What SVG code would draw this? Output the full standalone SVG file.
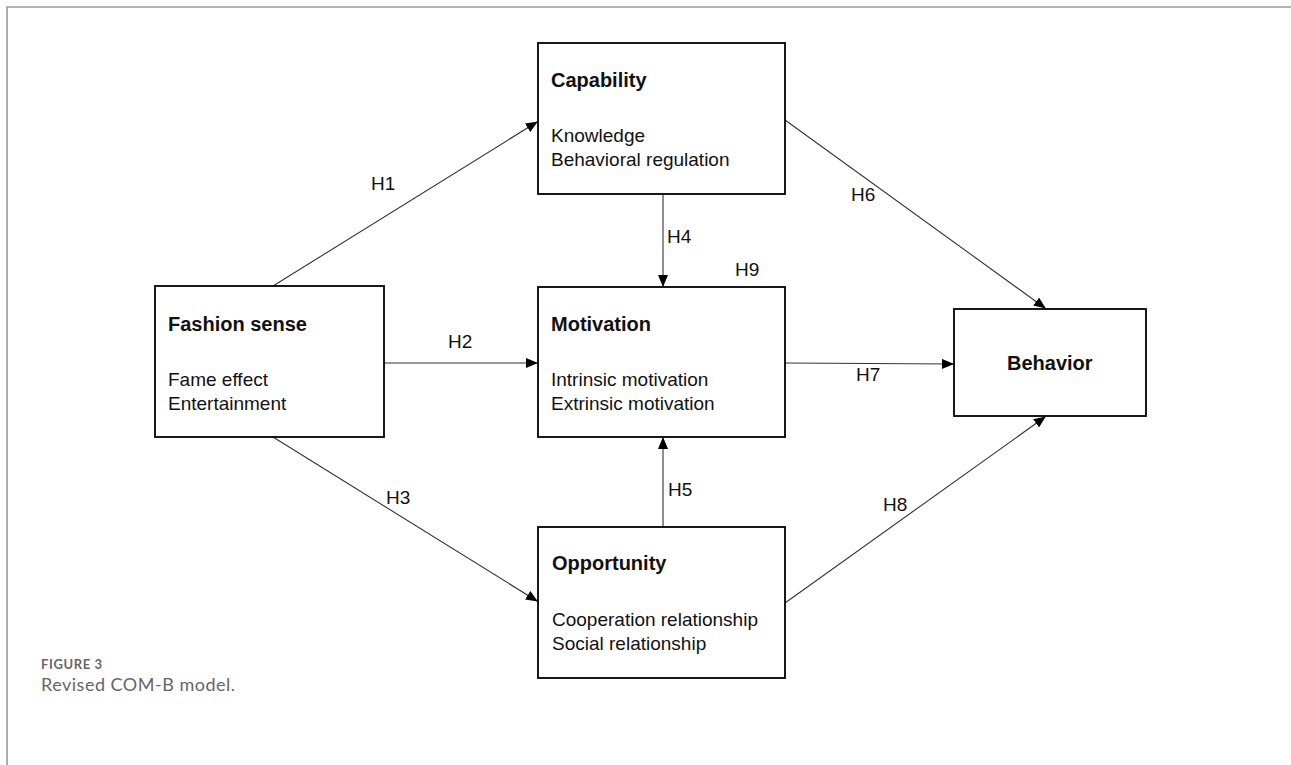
<svg xmlns="http://www.w3.org/2000/svg" width="1291" height="765" viewBox="0 0 1291 765">
<defs>
<marker id="arr" markerWidth="12" markerHeight="10" refX="11" refY="5" orient="auto" markerUnits="userSpaceOnUse">
<path d="M0,0 L12,5 L0,10 Z" fill="#000"/>
</marker>
<style>
.box{fill:#fff;stroke:#000;stroke-width:1.8}
.t{font-family:"Liberation Sans",Arial,sans-serif;font-size:19px;fill:#111}
.b{font-weight:bold;font-size:20px}
.lbl{font-family:"Liberation Sans",Arial,sans-serif;font-size:19px;fill:#111}
.c{stroke:#333;stroke-width:1.1;fill:none;marker-end:url(#arr)}
.frame{stroke:#999;stroke-width:1.6;fill:none}
.cap1{font-family:Lato,"Open Sans",sans-serif;font-size:13px;font-weight:bold;letter-spacing:0.6px;fill:#666}
.cap2{font-family:Lato,"Open Sans",sans-serif;font-size:18px;letter-spacing:0.5px;fill:#666}
</style>
</defs>
<rect width="1291" height="765" fill="#fff"/>
<path class="frame" d="M7,765 L7,7 L1291,7"/>

<g id="connectors">
<line class="c" x1="273" y1="286" x2="537" y2="122"/>
<line class="c" x1="384" y1="363" x2="537" y2="363"/>
<line class="c" x1="273" y1="437" x2="537" y2="601"/>
<line class="c" x1="663" y1="194" x2="663" y2="286"/>
<line class="c" x1="663" y1="527" x2="663" y2="438"/>
<line class="c" x1="785" y1="120" x2="1045" y2="308"/>
<line class="c" x1="785" y1="363" x2="953" y2="364"/>
<line class="c" x1="785" y1="603" x2="1045" y2="417"/>
<text class="lbl" x="371" y="190">H1</text>
<text class="lbl" x="448" y="348">H2</text>
<text class="lbl" x="386" y="504">H3</text>
<text class="lbl" x="667" y="243">H4</text>
<text class="lbl" x="668" y="496">H5</text>
<text class="lbl" x="851" y="201">H6</text>
<text class="lbl" x="856" y="381">H7</text>
<text class="lbl" x="883" y="511">H8</text>
<text class="lbl" x="735" y="276">H9</text>
</g>

<g id="capability">
<rect class="box" x="538" y="43" width="247" height="151"/>
<text class="t b" x="551" y="87">Capability</text>
<text class="t" x="551" y="142">Knowledge</text>
<text class="t" x="551" y="166">Behavioral regulation</text>
</g>

<g id="fashion-sense">
<rect class="box" x="155" y="286" width="229" height="151"/>
<text class="t b" x="168" y="331">Fashion sense</text>
<text class="t" x="168" y="386">Fame effect</text>
<text class="t" x="168" y="410">Entertainment</text>
</g>

<g id="motivation">
<rect class="box" x="538" y="287" width="247" height="150"/>
<text class="t b" x="551" y="331">Motivation</text>
<text class="t" x="551" y="386">Intrinsic motivation</text>
<text class="t" x="551" y="410">Extrinsic motivation</text>
</g>

<g id="opportunity">
<rect class="box" x="538" y="527" width="247" height="151"/>
<text class="t b" x="552" y="570">Opportunity</text>
<text class="t" x="552" y="626">Cooperation relationship</text>
<text class="t" x="552" y="650">Social relationship</text>
</g>

<g id="behavior">
<rect class="box" x="954" y="309" width="192" height="107"/>
<text class="t b" x="1007" y="370">Behavior</text>
</g>

<g id="caption">
<text class="cap1" x="41" y="669">FIGURE 3</text>
<text class="cap2" x="41" y="691">Revised COM-B model.</text>
</g>
</svg>
